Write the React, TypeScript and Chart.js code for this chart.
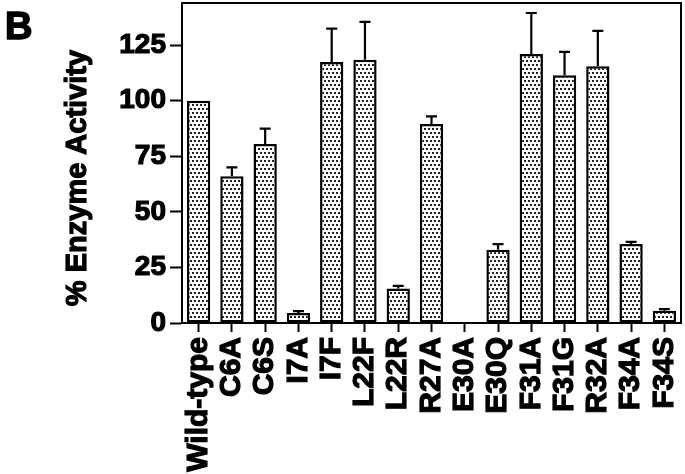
import React, { useEffect, useRef } from "react";
import { Chart, registerables } from "chart.js";

Chart.register(...registerables);

const categories = ["Wild-type", "C6A", "C6S", "I7A", "I7F", "L22F", "L22R", "R27A", "E30A", "E30Q", "F31A", "F31G", "R32A", "F34A", "F34S"];
const activity = [100, 66, 80.5, 4.5, 117.5, 118.5, 15.5, 89.5, 0, 33, 121, 111.5, 115.5, 35.5, 5.5];
const errorUp = [0, 4, 7, 0.8, 15, 17, 1.2, 3.5, 0, 2.5, 18.5, 10.5, 16, 1, 0.7];
const yTicks = [0, 25, 50, 75, 100, 125];
const yAxisTitle = "% Enzyme Activity";
const panelLabel = "B";

const FONT = "'Liberation Sans', Arial, Helvetica, sans-serif";

export default function App() {
  const ref = useRef<HTMLCanvasElement | null>(null);

  useEffect(() => {
    const canvas = ref.current;
    if (!canvas) return;
    const ctx = canvas.getContext("2d")!;

    const pc = document.createElement("canvas");
    pc.width = 4;
    pc.height = 8;
    const g = pc.getContext("2d")!;
    g.fillStyle = "#ffffff";
    g.fillRect(0, 0, 4, 8);
    g.fillStyle = "#222222";
    g.fillRect(0, 0, 2, 2);
    g.fillRect(2, 4, 2, 2);
    const pattern = ctx.createPattern(pc, "repeat")!;

    const errorPlugin = {
      id: "errorBars",
      afterDatasetsDraw(chart: any) {
        const c = chart.ctx;
        const meta = chart.getDatasetMeta(0);
        const ys = chart.scales.y;
        c.save();
        c.strokeStyle = "#000";
        c.lineWidth = 2.2;
        meta.data.forEach((bar: any, i: number) => {
          const e = errorUp[i];
          if (!e) return;
          const top = ys.getPixelForValue(activity[i] + e);
          const x = bar.x;
          c.beginPath();
          c.moveTo(x, bar.y);
          c.lineTo(x, top);
          c.moveTo(x - 5.5, top);
          c.lineTo(x + 5.5, top);
          c.stroke();
        });
        c.restore();
      },
    };

    const framePlugin = {
      id: "frameAndText",
      afterDraw(chart: any) {
        const c = chart.ctx;
        const a = chart.chartArea;
        c.save();
        c.strokeStyle = "#000";
        c.lineWidth = 2;
        c.beginPath();
        c.moveTo(a.left, a.top);
        c.lineTo(a.right, a.top);
        c.lineTo(a.right, a.bottom);
        c.stroke();

        c.fillStyle = "#000";
        c.lineWidth = 1.5;
        c.font = `bold 38px ${FONT}`;
        c.textAlign = "left";
        c.textBaseline = "alphabetic";
        c.fillText(panelLabel, 5, 39);
        c.strokeText(panelLabel, 5, 39);

        c.translate(78, 178);
        c.rotate(-Math.PI / 2);
        c.font = `bold 29px ${FONT}`;
        c.textAlign = "center";
        c.textBaseline = "middle";
        c.lineWidth = 1.2;
        c.fillText(yAxisTitle, 0, 0);
        c.strokeText(yAxisTitle, 0, 0);
        c.restore();
      },
    };

    const chart = new Chart(ctx, {
      type: "bar",
      data: {
        labels: categories,
        datasets: [
          {
            data: activity,
            backgroundColor: pattern,
            borderColor: "#000",
            borderWidth: 2.5,
            borderSkipped: false,
            barPercentage: 0.7,
            categoryPercentage: 1,
          },
        ],
      },
      options: {
        responsive: false,
        animation: false,
        devicePixelRatio: 1,
        layout: { padding: { top: 3, right: 4, left: 0, bottom: 0 } },
        plugins: { legend: { display: false }, tooltip: { enabled: false } },
        scales: {
          x: {
            grid: {
              display: true,
              drawOnChartArea: false,
              drawTicks: true,
              offset: false,
              tickLength: 9,
              tickColor: "#000",
              tickWidth: 2,
            },
            border: { display: true, color: "#000", width: 2 },
            ticks: {
              color: "#000",
              font: { family: FONT, size: 30, weight: "bold" },
              minRotation: 90,
              maxRotation: 90,
              autoSkip: false,
              padding: 5,
              textStrokeColor: "#000",
              textStrokeWidth: 1.2,
            },
            afterFit(scale: any) {
              scale.height = 151;
              scale.paddingLeft = 0;
              scale.paddingRight = 0;
            },
          },
          y: {
            min: 0,
            max: 144,
            afterBuildTicks(scale: any) {
              scale.ticks = yTicks.map((v) => ({ value: v }));
            },
            grid: {
              display: true,
              drawOnChartArea: false,
              drawTicks: true,
              tickLength: 12,
              tickColor: "#000",
              tickWidth: 2,
            },
            border: { display: true, color: "#000", width: 2 },
            ticks: {
              color: "#000",
              font: { family: FONT, size: 28, weight: "bold" },
              padding: 4,
              textStrokeColor: "#000",
              textStrokeWidth: 1.2,
            },
            afterFit(scale: any) {
              scale.width = 182;
              scale.paddingTop = 0;
              scale.paddingBottom = 0;
            },
          },
        },
      },
      plugins: [errorPlugin, framePlugin],
    });

    return () => chart.destroy();
  }, []);

  return (
    <div style={{ position: "fixed", left: 0, top: 0, width: 685, height: 474, background: "#fff" }}>
      <canvas ref={ref} width={685} height={474} style={{ display: "block" }} />
    </div>
  );
}
